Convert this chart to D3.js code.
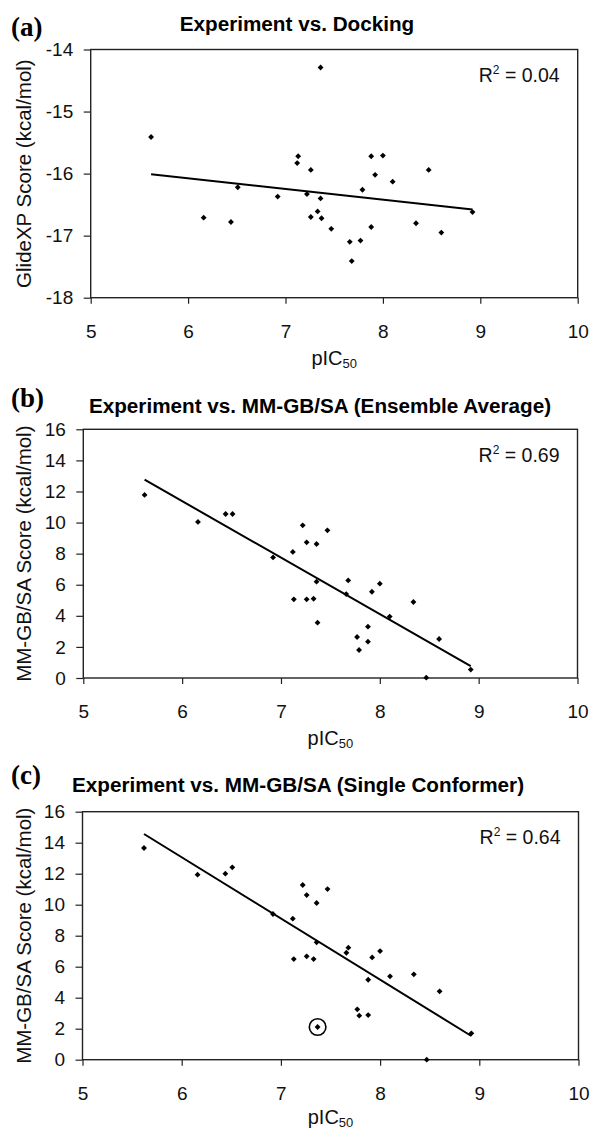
<!DOCTYPE html>
<html>
<head>
<meta charset="utf-8">
<script src="https://cdn.jsdelivr.net/npm/d3@7"></script>
<style>
  body { margin: 0; background: #fff; }
  svg { display: block; }
</style>
</head>
<body>
<div id="chart"></div>
<script>
// pIC50 values shared by all three panels (same 28 compounds)
const pIC50 = [5.62, 6.16, 6.44, 6.51, 6.92, 7.12, 7.13, 7.22, 7.26, 7.26,
  7.33, 7.36, 7.36, 7.37, 7.47, 7.66, 7.68, 7.77, 7.79, 7.88,
  7.88, 7.92, 8.00, 8.10, 8.34, 8.47, 8.60, 8.92];

// GlideXP docking scores
const glideXP = [-15.41, -16.71, -16.78, -16.22, -16.37, -15.83, -15.72, -16.33, -15.94, -16.70,
  -16.61, -14.29, -16.40, -16.72, -16.89, -17.10, -17.41, -17.08, -16.26, -15.72,
  -16.86, -16.02, -15.71, -16.13, -16.80, -15.94, -16.95, -16.62];

// MM-GB/SA, ensemble average
const mmgbsaAvg = [11.78, 10.04, 10.55, 10.55, 7.76, 8.11, 5.06, 9.82, 8.73, 5.06,
  5.10, 8.62, 6.20, 3.56, 9.50, 5.40, 6.28, 2.64, 1.80, 3.30,
  2.34, 5.55, 6.07, 3.95, 4.89, 0.02, 2.51, 0.54];

// MM-GB/SA, single conformer
const mmgbsaSingle = [13.66, 11.94, 12.00, 12.41, 9.40, 9.10, 6.49, 11.27, 10.62, 6.67,
  6.49, 10.11, 7.57, 2.11, 11.01, 6.90, 7.23, 3.25, 2.84, 2.88,
  5.16, 6.60, 7.01, 5.38, 5.51, 0.00, 4.41, 1.70];

// fitted trend lines, end points
const trendDocking = [[5.62, -16.01], [8.92, -16.58]];
const trendAvg = [[5.62, 12.76], [8.92, 0.77]];
const trendSingle = [[5.62, 14.56], [8.92, 1.53]];

const r2Values = ["0.04", "0.69", "0.64"];
const titles = ["Experiment vs. Docking",
  "Experiment vs. MM-GB/SA (Ensemble Average)",
  "Experiment vs. MM-GB/SA (Single Conformer)"];
const panelLetters = ["(a)", "(b)", "(c)"];
const yLabels = ["GlideXP Score (kcal/mol)", "MM-GB/SA Score (kcal/mol)", "MM-GB/SA Score (kcal/mol)"];

const xTicks = [5, 6, 7, 8, 9, 10];
const yTicksDocking = [-18, -17, -16, -15, -14];
const yTicksMM = [0, 2, 4, 6, 8, 10, 12, 14, 16];

const circledIndex = 13; // highlighted compound in panel (c)

const W = 590, H = 1130;
const FONT = "'Liberation Sans', Arial, sans-serif";

const svg = d3.select("#chart").append("svg")
  .attr("width", W)
  .attr("height", H);

// layout of each panel (pixel boxes)
const panels = [
  { left: 90.7, right: 577.7, top: 49.5, bottom: 297.7, titleX: 297, titleY: 31, letterY: 36, xLabelDy: 67,
    yVals: glideXP, yDomain: [-18, -14], yTicks: yTicksDocking, trend: trendDocking },
  { left: 83.3, right: 577.5, top: 429.3, bottom: 678, titleX: 320, titleY: 413, letterY: 407, xLabelDy: 67,
    yVals: mmgbsaAvg, yDomain: [0, 16], yTicks: yTicksMM, trend: trendAvg },
  { left: 82.5, right: 578.5, top: 811.7, bottom: 1059.7, titleX: 298, titleY: 791.5, letterY: 784, xLabelDy: 64.5,
    yVals: mmgbsaSingle, yDomain: [0, 16], yTicks: yTicksMM, trend: trendSingle }
];

panels.forEach((p, i) => {
  const x = d3.scaleLinear().domain([5, 10]).range([p.left, p.right]);
  const y = d3.scaleLinear().domain(p.yDomain).range([p.bottom, p.top]);

  // panel letter
  svg.append("text")
    .attr("x", 11)
    .attr("y", p.letterY)
    .attr("font-family", "'Liberation Serif', 'Times New Roman', serif")
    .attr("font-weight", "bold")
    .attr("font-size", "27px")
    .text(panelLetters[i]);

  // title
  svg.append("text")
    .attr("x", p.titleX)
    .attr("y", p.titleY)
    .attr("text-anchor", "middle")
    .attr("font-family", FONT)
    .attr("font-weight", "bold")
    .attr("font-size", "20.7px")
    .text(titles[i]);

  // axes
  const xAxis = svg.append("g")
    .attr("transform", `translate(0,${p.bottom})`)
    .call(d3.axisBottom(x).tickValues(xTicks).tickSize(6).tickPadding(20.5).tickFormat(d3.format("d")));
  const yAxis = svg.append("g")
    .attr("transform", `translate(${p.left},0)`)
    .call(d3.axisLeft(y).tickValues(p.yTicks).tickSize(7).tickPadding(10.5).tickFormat(d => d < 0 ? "-" + Math.abs(d) : d));

  [xAxis, yAxis].forEach(ax => {
    ax.select(".domain").remove();
    ax.selectAll("line").attr("stroke", "#222").attr("stroke-width", 1.2);
    ax.selectAll("text")
      .attr("font-family", FONT)
      .attr("font-size", "19px")
      .attr("fill", "#111");
  });

  // plot frame
  svg.append("rect")
    .attr("x", p.left)
    .attr("y", p.top)
    .attr("width", p.right - p.left)
    .attr("height", p.bottom - p.top)
    .attr("fill", "none")
    .attr("stroke", "#222")
    .attr("stroke-width", 1.4);

  // x label: pIC50
  const xl = svg.append("text")
    .attr("x", (p.left + p.right) / 2)
    .attr("y", p.bottom + p.xLabelDy)
    .attr("text-anchor", "middle")
    .attr("font-family", FONT)
    .attr("font-size", "20px")
    .attr("fill", "#111");
  xl.append("tspan").text("pIC");
  xl.append("tspan").attr("font-size", "13px").attr("dy", 3).text("50");

  // y label
  svg.append("text")
    .attr("transform", `translate(31,${(p.top + p.bottom) / 2}) rotate(-90)`)
    .attr("text-anchor", "middle")
    .attr("font-family", FONT)
    .attr("font-size", "20.5px")
    .attr("fill", "#111")
    .text(yLabels[i]);

  // trend line
  svg.append("path")
    .datum(p.trend)
    .attr("d", d3.line().x(d => x(d[0])).y(d => y(d[1])))
    .attr("fill", "none")
    .attr("stroke", "#000")
    .attr("stroke-width", 2);

  // data points (diamonds)
  const pts = pIC50.map((v, j) => ({ x: v, y: p.yVals[j], j }));
  svg.append("g").selectAll("path")
    .data(pts)
    .enter()
    .append("path")
    .attr("d", d3.symbol().type(d3.symbolSquare).size(17))
    .attr("transform", d => `translate(${x(d.x)},${y(d.y)}) rotate(45)`)
    .attr("fill", "#000");

  if (i === 2) {
    const d = pts[circledIndex];
    svg.append("circle")
      .attr("cx", x(d.x))
      .attr("cy", y(d.y))
      .attr("r", 8.3)
      .attr("fill", "none")
      .attr("stroke", "#000")
      .attr("stroke-width", 1.6);
  }

  // R^2 annotation
  const r2 = svg.append("text")
    .attr("x", p.right - 18)
    .attr("y", p.top + 32.5)
    .attr("text-anchor", "end")
    .attr("font-family", FONT)
    .attr("font-size", "19.5px")
    .attr("fill", "#111");
  r2.append("tspan").text("R");
  r2.append("tspan").attr("font-size", "12px").attr("dy", -8).text("2");
  r2.append("tspan").attr("dy", 8).text(" = " + r2Values[i]);
});
</script>
</body>
</html>
